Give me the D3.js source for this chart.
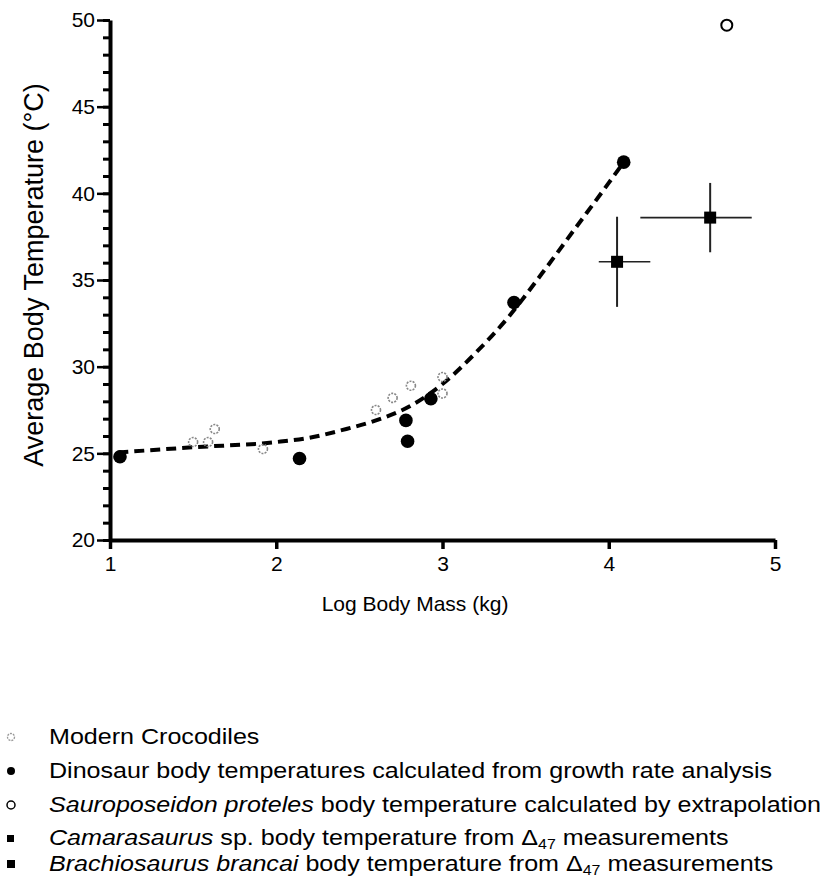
<!DOCTYPE html>
<html>
<head>
<meta charset="utf-8">
<script src="https://cdn.jsdelivr.net/npm/d3@7"></script>
<style>
  html, body { margin: 0; padding: 0; background: #fff; }
  svg { display: block; font-family: "Liberation Sans", Arial, sans-serif; }
</style>
</head>
<body>
<svg id="chart" width="838" height="877"></svg>
<script>
// ---- data ----
const xTicks = [1, 2, 3, 4, 5];
const yTicks = [20, 25, 30, 35, 40, 45, 50];
const yMinorTicks = d3.range(20, 51, 1);

const crocMass = [1.50, 1.59, 1.63, 1.92, 2.60, 2.70, 2.81, 3.00, 3.00];
const crocTemp = [25.65, 25.65, 26.40, 25.25, 27.50, 28.20, 28.90, 28.45, 29.40];

const dinoMass = [1.06, 2.14, 2.78, 2.79, 2.93, 3.43, 4.09];
const dinoTemp = [24.8, 24.7, 26.9, 25.7, 28.15, 33.7, 41.8];

const sauroMass = [4.71];
const sauroTemp = [49.7];

const camaraMass = [4.05], camaraTemp = [36.05];
const camaraMassErr = [[3.94, 4.25]], camaraTempErr = [[33.45, 38.65]];
const brachMass = [4.61], brachTemp = [38.6];
const brachMassErr = [[4.19, 4.86]], brachTempErr = [[36.6, 40.6]];

const fitMass = [1.05, 1.5, 2.0, 2.2, 2.4, 2.6, 2.8, 3.0, 3.2, 3.4, 3.6, 3.8, 4.0, 4.09];
const fitTemp = [25.05, 25.35, 25.65, 25.9, 26.35, 26.9, 27.7, 29.0, 30.8, 32.9, 35.4, 38.0, 40.6, 41.8];

const xTitle = "Log Body Mass (kg)";
const yTitle = "Average Body Temperature (\u00B0C)";

// ---- drawing ----
const svg = d3.select("#chart");
svg.append("rect").attr("width", 838).attr("height", 877).attr("fill", "#fff");

const x = d3.scaleLinear().domain([1, 5]).range([110, 775]);
const y = d3.scaleLinear().domain([20, 50]).range([540, 20]);

// y axis minor ticks
const yMinor = d3.axisLeft(y).tickValues(yMinorTicks).tickSize(7).tickFormat("");
svg.append("g").attr("transform", `translate(${x(1)},0)`).call(yMinor)
  .call(g => g.select(".domain").remove())
  .call(g => g.selectAll("line").attr("stroke", "#000").attr("stroke-width", 3));

// y axis major
const yAxis = d3.axisLeft(y).tickValues(yTicks).tickSize(13).tickPadding(2).tickSizeOuter(0)
  .tickFormat(d3.format("d"));
svg.append("g").attr("transform", `translate(${x(1)},0)`).call(yAxis)
  .call(g => g.select(".domain").attr("stroke", "#000").attr("stroke-width", 4))
  .call(g => g.selectAll("line").attr("stroke", "#000").attr("stroke-width", 2.5))
  .call(g => g.selectAll("text").attr("font-size", 21).attr("fill", "#000")
    .attr("font-family", "Liberation Sans, Arial, sans-serif"));

// x axis
const xAxis = d3.axisBottom(x).tickValues(xTicks).tickSize(9).tickPadding(7).tickSizeOuter(0)
  .tickFormat(d3.format("d"));
svg.append("g").attr("transform", `translate(0,${y(20)})`).call(xAxis)
  .call(g => g.select(".domain").attr("stroke", "#000").attr("stroke-width", 4))
  .call(g => g.selectAll("line").attr("stroke", "#000").attr("stroke-width", 3.5))
  .call(g => g.selectAll("text").attr("font-size", 21).attr("fill", "#000")
    .attr("font-family", "Liberation Sans, Arial, sans-serif"));

// axis titles
svg.append("text").attr("x", 415).attr("y", 611).attr("text-anchor", "middle")
  .attr("font-size", 21).text(xTitle);
svg.append("text").attr("transform", "translate(43,275) rotate(-90)")
  .attr("text-anchor", "middle").attr("font-size", 27).text(yTitle);

// fitted dashed curve
const fitData = fitMass.map((m, i) => [m, fitTemp[i]]);
svg.append("path").datum(fitData)
  .attr("d", d3.line().x(d => x(d[0])).y(d => y(d[1])).curve(d3.curveMonotoneX))
  .attr("fill", "none").attr("stroke", "#000").attr("stroke-width", 4)
  .attr("stroke-dasharray", "10,6");

// crocodiles
svg.append("g").selectAll("circle").data(crocMass.map((m, i) => [m, crocTemp[i]]))
  .join("circle").attr("cx", d => x(d[0])).attr("cy", d => y(d[1])).attr("r", 4.5)
  .attr("fill", "none").attr("stroke", "#888").attr("stroke-width", 1.6)
  .attr("stroke-dasharray", "2,1.2");

// dinosaurs
svg.append("g").selectAll("circle").data(dinoMass.map((m, i) => [m, dinoTemp[i]]))
  .join("circle").attr("cx", d => x(d[0])).attr("cy", d => y(d[1])).attr("r", 6.8)
  .attr("fill", "#000");

// sauroposeidon
svg.append("g").selectAll("circle").data(sauroMass.map((m, i) => [m, sauroTemp[i]]))
  .join("circle").attr("cx", d => x(d[0])).attr("cy", d => y(d[1])).attr("r", 5.5)
  .attr("fill", "#fff").attr("stroke", "#000").attr("stroke-width", 2);

// error bar squares
function squares(mass, temp, mErr, tErr, size) {
  const g = svg.append("g");
  mass.forEach((m, i) => {
    g.append("line").attr("x1", x(mErr[i][0])).attr("x2", x(mErr[i][1]))
      .attr("y1", y(temp[i])).attr("y2", y(temp[i]))
      .attr("stroke", "#222").attr("stroke-width", 1.6);
    g.append("line").attr("x1", x(m)).attr("x2", x(m))
      .attr("y1", y(tErr[i][0])).attr("y2", y(tErr[i][1]))
      .attr("stroke", "#222").attr("stroke-width", 2);
    g.append("rect").attr("x", x(m) - size / 2).attr("y", y(temp[i]) - size / 2)
      .attr("width", size).attr("height", size).attr("fill", "#000");
  });
}
squares(camaraMass, camaraTemp, camaraMassErr, camaraTempErr, 12);
squares(brachMass, brachTemp, brachMassErr, brachTempErr, 12);

// legend
const legendFont = 22;
const leg = svg.append("g");
const lx = 49;
const rows = [737, 771, 805, 838, 864];

leg.append("circle").attr("cx", 11).attr("cy", rows[0]).attr("r", 3.5)
  .attr("fill", "none").attr("stroke", "#999").attr("stroke-width", 1.3).attr("stroke-dasharray", "2,1");
leg.append("circle").attr("cx", 11).attr("cy", rows[1]).attr("r", 4).attr("fill", "#000");
leg.append("circle").attr("cx", 11).attr("cy", rows[2]).attr("r", 4)
  .attr("fill", "#fff").attr("stroke", "#000").attr("stroke-width", 1.5);
leg.append("rect").attr("x", 7).attr("y", rows[3] - 3).attr("width", 7).attr("height", 7).attr("fill", "#000");
leg.append("rect").attr("x", 7).attr("y", rows[4] - 4).attr("width", 8).attr("height", 8).attr("fill", "#000");

const legTextG = leg.append("g").attr("font-size", legendFont)
  .attr("transform", `translate(${lx},0) scale(1.14,1)`);
function legText(row) {
  return legTextG.append("text").attr("x", 0).attr("y", row + 7);
}
legText(rows[0]).text("Modern Crocodiles");
legText(rows[1]).text("Dinosaur body temperatures calculated from growth rate analysis");
const t3 = legText(rows[2]);
t3.append("tspan").attr("font-style", "italic").text("Sauroposeidon proteles");
t3.append("tspan").text(" body temperature calculated by extrapolation");
const t4 = legText(rows[3]);
t4.append("tspan").attr("font-style", "italic").text("Camarasaurus");
t4.append("tspan").text(" sp. body temperature from \u0394");
t4.append("tspan").attr("font-size", 14).attr("dy", 4).text("47");
t4.append("tspan").attr("dy", -4).text(" measurements");
const t5 = legText(rows[4]);
t5.append("tspan").attr("font-style", "italic").text("Brachiosaurus brancai");
t5.append("tspan").text(" body temperature from \u0394");
t5.append("tspan").attr("font-size", 14).attr("dy", 4).text("47");
t5.append("tspan").attr("dy", -4).text(" measurements");
</script>
</body>
</html>
